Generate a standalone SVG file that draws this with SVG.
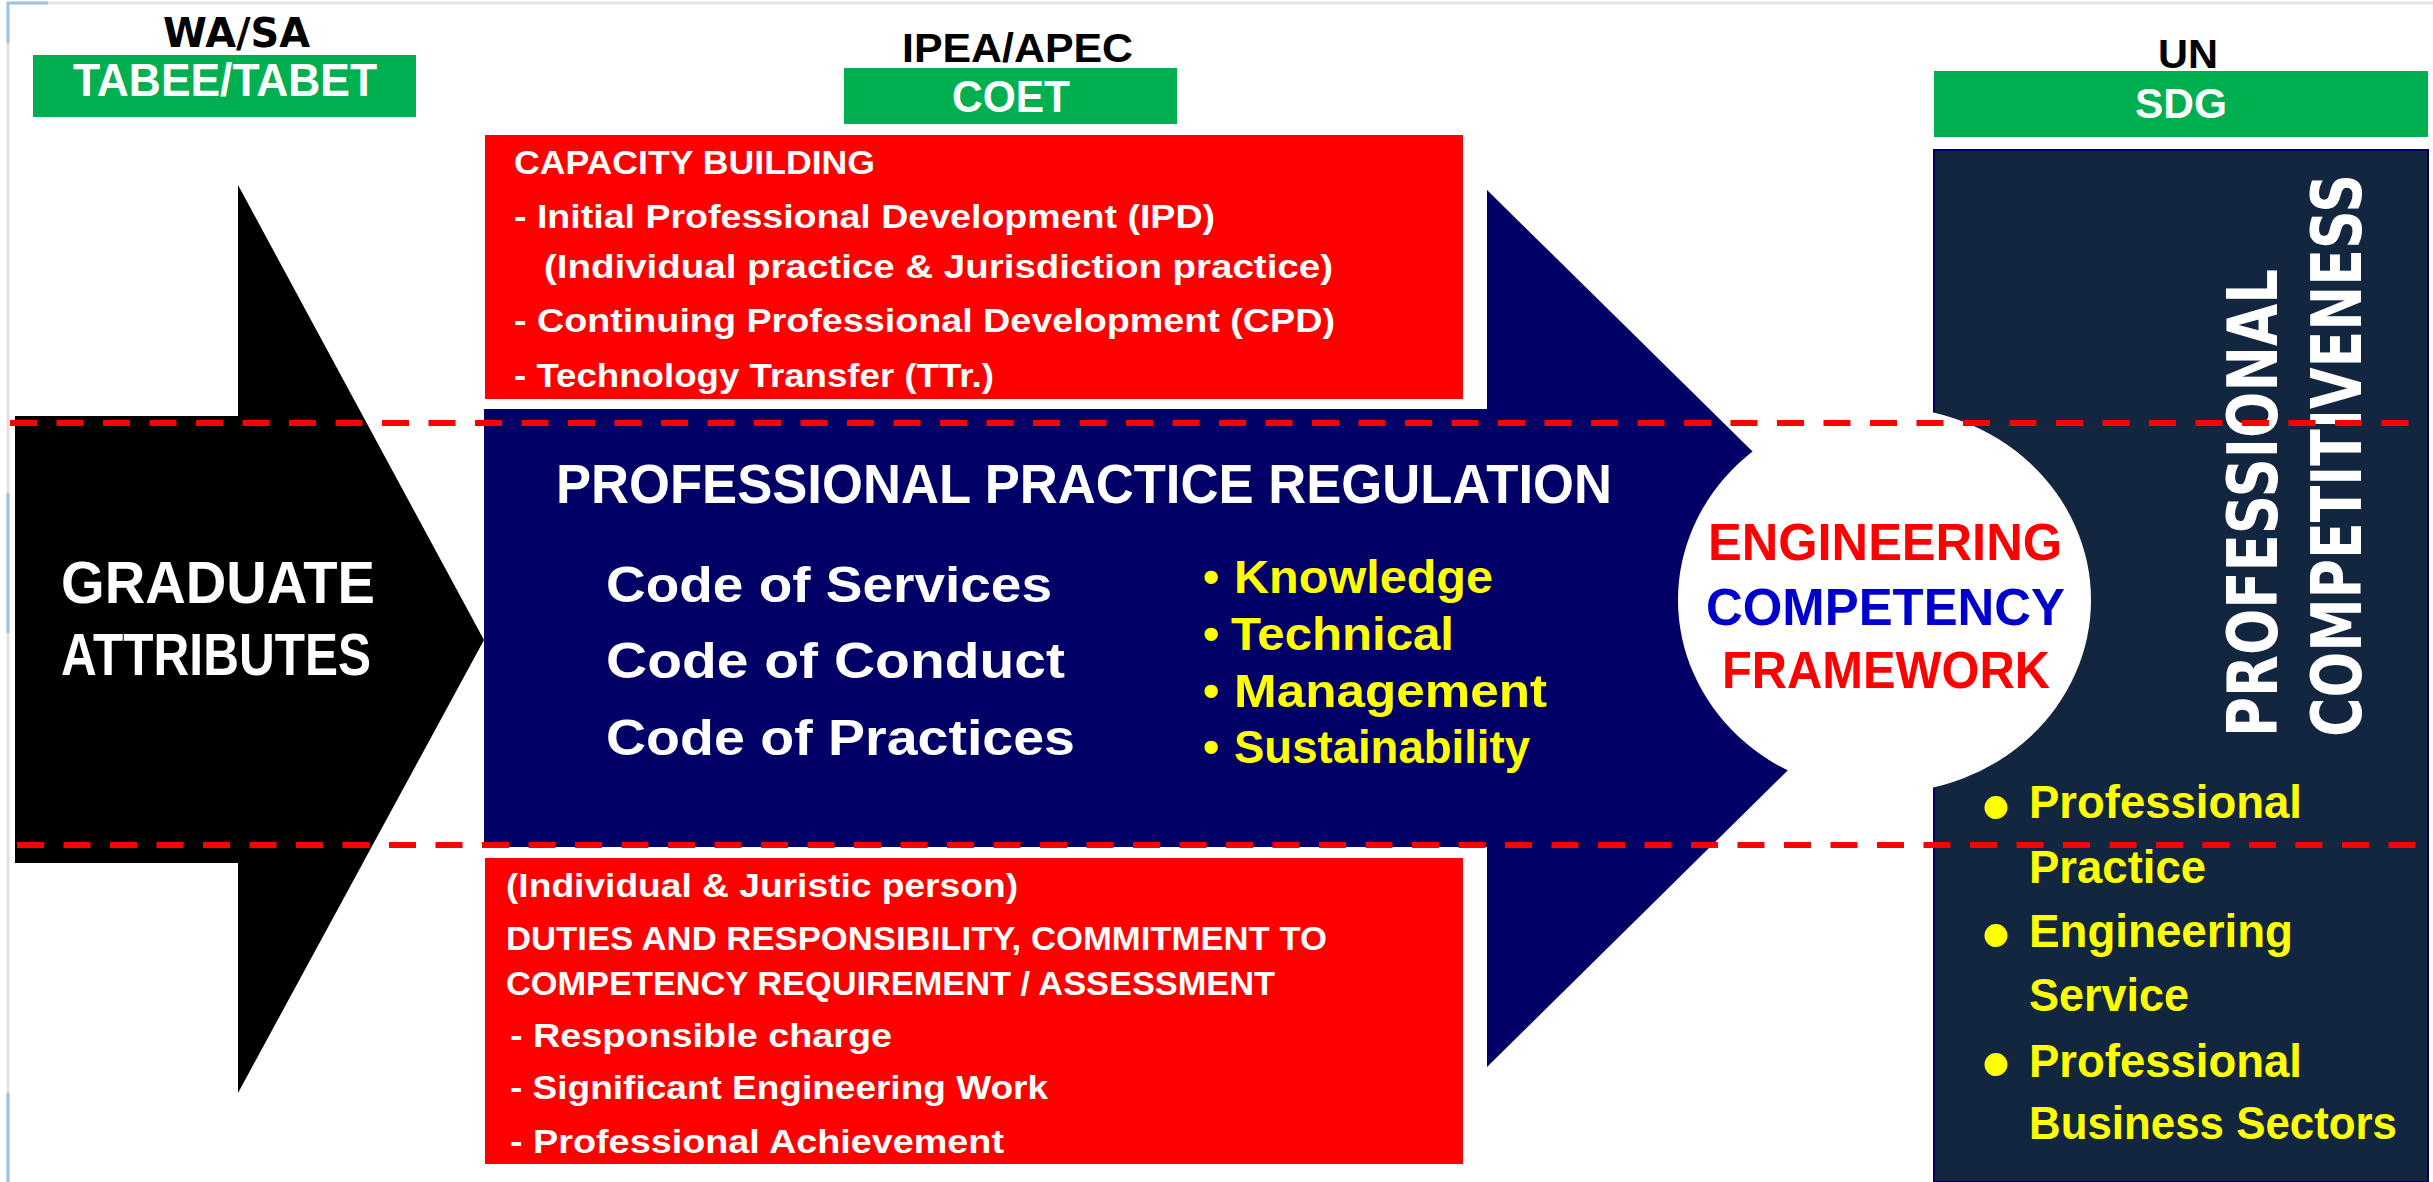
<svg xmlns="http://www.w3.org/2000/svg" width="2433" height="1182" viewBox="0 0 2433 1182">
<style>
.sans{font-family:"Liberation Sans",Arial,sans-serif;font-weight:bold}
.wht{fill:#FFFFFF}
.blk{fill:#000000}
.yel{fill:#FFFF00}
.red{fill:#FF0000}
.blu{fill:#0000CC}
.dash{stroke:#FF0000;stroke-width:6;stroke-dasharray:27 19.5;fill:none}
.green{fill:#00B050}
.redbox{fill:#FF0000}
</style>
<rect x="0" y="0" width="2433" height="1182" fill="#FFFFFF"/>
<g id="frame">
<line x1="8" y1="3" x2="2433" y2="3" stroke="#E2E2E2" stroke-width="3"/>
<line x1="8" y1="3" x2="8" y2="1182" stroke="#E2E2E2" stroke-width="3"/>
<path d="M8,43 V3 H48" stroke="#9DC3E6" stroke-width="3" fill="none"/>
<line x1="8" y1="493" x2="8" y2="633" stroke="#9DC3E6" stroke-width="3"/>
<line x1="8" y1="1093" x2="8" y2="1182" stroke="#9DC3E6" stroke-width="3"/>
</g>

<g id="graduate-attributes">
<polygon points="15,416 238,416 238,185 484,640 238,1093 238,863 15,863" fill="#000000"/>
<text class="sans wht" x="61" y="603" font-size="60" textLength="314" lengthAdjust="spacingAndGlyphs">GRADUATE</text>
<text class="sans wht" x="61" y="675" font-size="60" textLength="310" lengthAdjust="spacingAndGlyphs">ATTRIBUTES</text>
</g>

<g id="practice-regulation">
<polygon points="484,409 1487,409 1487,190 1932,628 1487,1067 1487,847 484,847" fill="#000066"/>
<text class="sans wht" x="556" y="503" font-size="56" textLength="1056" lengthAdjust="spacingAndGlyphs">PROFESSIONAL PRACTICE REGULATION</text>
<text class="sans wht" x="606" y="602" font-size="50" textLength="446" lengthAdjust="spacingAndGlyphs">Code of Services</text>
<text class="sans wht" x="606" y="678" font-size="50" textLength="459" lengthAdjust="spacingAndGlyphs">Code of Conduct</text>
<text class="sans wht" x="606" y="755" font-size="50" textLength="469" lengthAdjust="spacingAndGlyphs">Code of Practices</text>
<text class="sans yel" x="1203" y="593" font-size="46">•</text>
<text class="sans yel" x="1234" y="593" font-size="46" textLength="259" lengthAdjust="spacingAndGlyphs">Knowledge</text>
<text class="sans yel" x="1203" y="650" font-size="46">•</text>
<text class="sans yel" x="1231" y="650" font-size="46" textLength="223" lengthAdjust="spacingAndGlyphs">Technical</text>
<text class="sans yel" x="1203" y="707" font-size="46">•</text>
<text class="sans yel" x="1234" y="707" font-size="46" textLength="313" lengthAdjust="spacingAndGlyphs">Management</text>
<text class="sans yel" x="1203" y="763" font-size="46">•</text>
<text class="sans yel" x="1234" y="763" font-size="46" textLength="296" lengthAdjust="spacingAndGlyphs">Sustainability</text>
</g>

<g id="professional-competitiveness">
<rect x="1934" y="150" width="494" height="1032" fill="#13263F" stroke="#000066" stroke-width="2"/>
<text class="wht" font-family="'DejaVu Sans',sans-serif" font-weight="bold" font-size="70" transform="translate(2277,737) rotate(-90)" textLength="468" lengthAdjust="spacingAndGlyphs">PROFESSIONAL</text>
<text class="wht" font-family="'DejaVu Sans',sans-serif" font-weight="bold" font-size="70" transform="translate(2361,737) rotate(-90)" textLength="563" lengthAdjust="spacingAndGlyphs">COMPETITIVENESS</text>
<text class="sans yel" x="1982" y="834" font-size="80">•</text>
<text class="sans yel" x="2029" y="818" font-size="46" textLength="273" lengthAdjust="spacingAndGlyphs">Professional</text>
<text class="sans yel" x="2029" y="883" font-size="46" textLength="177" lengthAdjust="spacingAndGlyphs">Practice</text>
<text class="sans yel" x="1982" y="962" font-size="80">•</text>
<text class="sans yel" x="2029" y="947" font-size="46" textLength="264" lengthAdjust="spacingAndGlyphs">Engineering</text>
<text class="sans yel" x="2029" y="1011" font-size="46" textLength="160" lengthAdjust="spacingAndGlyphs">Service</text>
<text class="sans yel" x="1982" y="1091" font-size="80">•</text>
<text class="sans yel" x="2029" y="1077" font-size="46" textLength="273" lengthAdjust="spacingAndGlyphs">Professional</text>
<text class="sans yel" x="2029" y="1139" font-size="46" textLength="368" lengthAdjust="spacingAndGlyphs">Business Sectors</text>
</g>

<g id="competency-framework">
<ellipse cx="1884.5" cy="600" rx="206.5" ry="193" fill="#FFFFFF"/>
<text class="sans red" x="1708" y="560" font-size="52" textLength="354" lengthAdjust="spacingAndGlyphs">ENGINEERING</text>
<text class="sans blu" x="1706" y="625" font-size="52" textLength="359" lengthAdjust="spacingAndGlyphs">COMPETENCY</text>
<text class="sans red" x="1722" y="688" font-size="52" textLength="328" lengthAdjust="spacingAndGlyphs">FRAMEWORK</text>
</g>

<g id="capacity-building">
<rect class="redbox" x="485" y="135" width="978" height="264"/>
<text class="sans wht" x="514" y="174" font-size="33" textLength="361" lengthAdjust="spacingAndGlyphs">CAPACITY BUILDING</text>
<text class="sans wht" x="514" y="228" font-size="33" textLength="701" lengthAdjust="spacingAndGlyphs">- Initial Professional Development (IPD)</text>
<text class="sans wht" x="544" y="278" font-size="33" textLength="789" lengthAdjust="spacingAndGlyphs">(Individual practice &amp; Jurisdiction practice)</text>
<text class="sans wht" x="514" y="332" font-size="33" textLength="821" lengthAdjust="spacingAndGlyphs">- Continuing Professional Development (CPD)</text>
<text class="sans wht" x="514" y="387" font-size="33" textLength="480" lengthAdjust="spacingAndGlyphs">- Technology Transfer (TTr.)</text>
</g>

<g id="duties">
<rect class="redbox" x="485" y="858" width="978" height="306"/>
<text class="sans wht" x="506" y="897" font-size="33" textLength="512" lengthAdjust="spacingAndGlyphs">(Individual &amp; Juristic person)</text>
<text class="sans wht" x="506" y="950" font-size="33" textLength="821" lengthAdjust="spacingAndGlyphs">DUTIES AND RESPONSIBILITY, COMMITMENT TO</text>
<text class="sans wht" x="506" y="995" font-size="33" textLength="769" lengthAdjust="spacingAndGlyphs">COMPETENCY REQUIREMENT / ASSESSMENT</text>
<text class="sans wht" x="510" y="1047" font-size="33" textLength="382" lengthAdjust="spacingAndGlyphs">- Responsible charge</text>
<text class="sans wht" x="510" y="1099" font-size="33" textLength="538" lengthAdjust="spacingAndGlyphs">- Significant Engineering Work</text>
<text class="sans wht" x="510" y="1153" font-size="33" textLength="494" lengthAdjust="spacingAndGlyphs">- Professional Achievement</text>
</g>

<g id="wa-sa">
<text class="blk" font-family="'DejaVu Sans',Verdana,sans-serif" font-weight="bold" x="163" y="47" font-size="40" textLength="147" lengthAdjust="spacingAndGlyphs">WA/SA</text>
<rect class="green" x="33" y="55" width="383" height="62"/>
<text class="sans wht" x="73" y="96" font-size="47" textLength="304" lengthAdjust="spacingAndGlyphs">TABEE/TABET</text>
</g>

<g id="ipea-apec">
<text class="sans blk" x="902" y="62" font-size="40" textLength="231" lengthAdjust="spacingAndGlyphs">IPEA/APEC</text>
<rect class="green" x="844" y="68" width="333" height="56"/>
<text class="sans wht" x="952" y="112" font-size="45" textLength="118" lengthAdjust="spacingAndGlyphs">COET</text>
</g>

<g id="un">
<text class="sans blk" x="2158" y="68" font-size="40" textLength="60" lengthAdjust="spacingAndGlyphs">UN</text>
<rect class="green" x="1934" y="71" width="494" height="66"/>
<text class="sans wht" x="2135" y="118" font-size="42" textLength="92" lengthAdjust="spacingAndGlyphs">SDG</text>
</g>

<g id="connectors">
<line class="dash" x1="10" y1="423" x2="2412" y2="423"/>
<line class="dash" x1="17" y1="845" x2="2418" y2="845"/>
</g>
</svg>
